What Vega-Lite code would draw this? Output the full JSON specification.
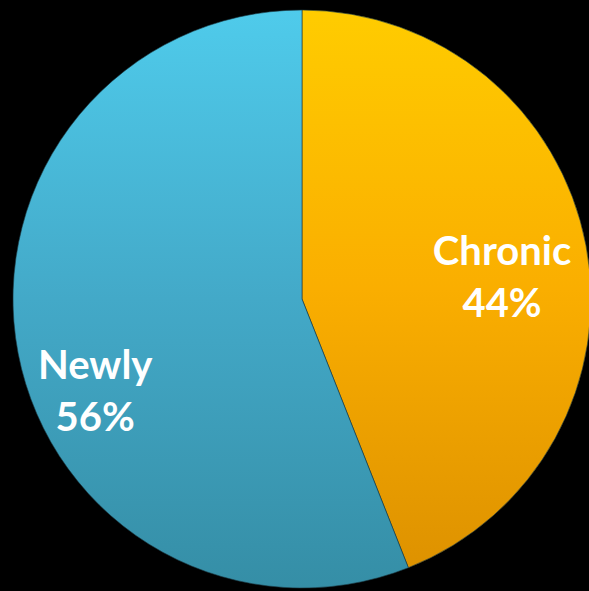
{
  "$schema": "https://vega.github.io/schema/vega-lite/v6.json",
  "width": 578,
  "height": 580,
  "padding": {"left": 11, "top": 8, "right": 0, "bottom": 3},
  "background": "#000000",
  "config": {"view": {"stroke": null}},
  "data": {"values": [
    {"category": "Chronic", "pct": 44},
    {"category": "Newly", "pct": 56}
  ]},
  "encoding": {
    "theta": {"field": "pct", "type": "quantitative", "stack": true},
    "order": {"field": "category", "type": "nominal", "sort": "ascending"}
  },
  "layer": [
    {
      "mark": {"type": "arc", "stroke": "#1a3a44", "strokeWidth": 1, "strokeOpacity": 0.6},
      "encoding": {
        "fill": {
          "condition": {
            "test": "datum.category == 'Chronic'",
            "value": {"gradient": "linear", "x1": 0, "y1": 0, "x2": 0, "y2": 1,
              "stops": [{"offset": 0, "color": "#FFCC00"}, {"offset": 0.5, "color": "#FAAE00"}, {"offset": 1, "color": "#DE9200"}]}
          },
          "value": {"gradient": "linear", "x1": 0, "y1": 0, "x2": 0, "y2": 1,
            "stops": [{"offset": 0, "color": "#4FCBEB"}, {"offset": 0.5, "color": "#43A9C8"}, {"offset": 1, "color": "#358EA6"}]}
        }
      }
    },
    {
      "mark": {
        "type": "text",
        "font": "Lato",
        "fontSize": 40,
        "fontWeight": "bold",
        "color": "#FFFFFF",
        "lineHeight": 52,
        "dy": -18,
        "radius": {"expr": "datum.category == 'Chronic' ? 202 : 224"},
        "thetaOffset": {"expr": "datum.category == 'Chronic' ? 0.049 : -0.206"}
      },
      "encoding": {
        "text": {"field": "label", "type": "nominal"}
      }
    }
  ],
  "transform": [
    {"calculate": "[datum.category, datum.pct + '%']", "as": "label"}
  ]
}
